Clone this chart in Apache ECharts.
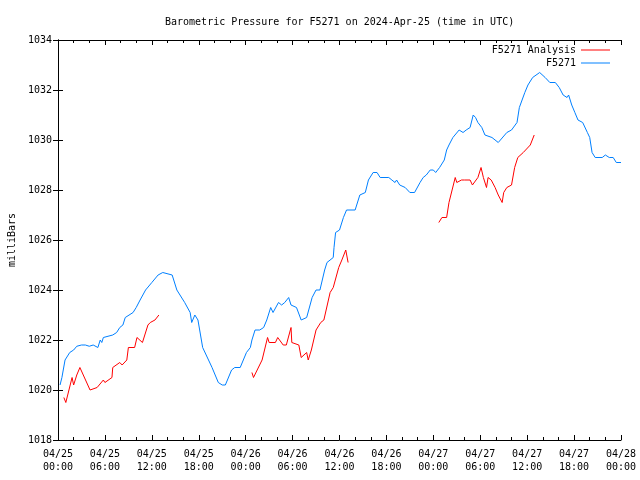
<!DOCTYPE html>
<html>
<head>
<meta charset="utf-8">
<script src="https://cdn.jsdelivr.net/npm/echarts@6/dist/echarts.min.js"></script>
<style>html,body{margin:0;padding:0;background:#fff}#c{width:640px;height:480px}</style>
</head>
<body>
<div id="c"></div>
<script>
// x tick labels (every 6 hours, from 2024-04-25 00:00 UTC)
const tickLabels = ['04/25\n00:00','04/25\n06:00','04/25\n12:00','04/25\n18:00','04/26\n00:00','04/26\n06:00','04/26\n12:00','04/26\n18:00','04/27\n00:00','04/27\n06:00','04/27\n12:00','04/27\n18:00','04/28\n00:00'];

// F5271 observed: [hours since 04/25 00:00, mbar]
const stationHours = [0.26,0.5,0.9,1.5,2.0,2.4,3.0,3.5,4.0,4.5,5.1,5.3,5.4,5.6,5.8,6.0,7.0,7.5,7.9,8.3,8.6,9.6,10.0,10.5,11.2,12.0,12.8,13.4,14.6,15.2,16.2,16.9,17.1,17.5,17.9,18.5,19.7,20.5,21.0,21.4,22.2,22.6,23.3,24.1,24.6,24.8,25.2,25.8,26.3,26.7,27.2,27.5,28.2,28.6,29.0,29.5,29.8,30.5,31.1,31.8,32.5,33.0,33.5,34.1,34.4,35.2,35.3,35.5,36.0,36.5,36.9,38.0,38.6,39.3,39.7,40.3,40.8,41.2,42.3,42.7,43.1,43.3,43.7,44.4,45.0,45.6,46.3,46.7,47.1,47.6,48.0,48.3,48.8,49.4,49.7,50.0,50.5,51.3,51.8,52.2,52.7,53.1,53.4,53.7,54.2,54.6,55.5,56.3,57.4,58.0,58.7,59.0,59.7,60.1,60.7,61.6,62.3,62.9,63.6,64.1,64.6,65.1,65.3,65.7,66.1,66.5,67.1,67.7,68.0,68.3,68.7,69.6,70.0,70.5,71.0,71.4,72.0];
const stationValues = [1020.2,1020.5,1021.2,1021.5,1021.6,1021.75,1021.8,1021.8,1021.75,1021.8,1021.7,1021.7,1022.0,1021.9,1022.1,1022.1,1022.2,1022.3,1022.5,1022.6,1022.9,1023.1,1023.3,1023.6,1024.0,1024.3,1024.6,1024.7,1024.6,1024.0,1023.5,1023.1,1022.7,1023.0,1022.8,1021.7,1020.9,1020.3,1020.2,1020.2,1020.8,1020.9,1020.9,1021.5,1021.7,1022.0,1022.4,1022.4,1022.5,1022.8,1023.3,1023.1,1023.5,1023.4,1023.5,1023.7,1023.4,1023.3,1022.8,1022.9,1023.7,1024.0,1024.0,1024.8,1025.1,1025.3,1025.7,1026.3,1026.4,1026.9,1027.2,1027.2,1027.8,1027.9,1028.4,1028.7,1028.7,1028.5,1028.5,1028.4,1028.3,1028.4,1028.2,1028.1,1027.9,1027.9,1028.3,1028.5,1028.6,1028.8,1028.8,1028.7,1028.9,1029.2,1029.6,1029.8,1030.1,1030.4,1030.3,1030.4,1030.5,1031.0,1030.9,1030.7,1030.5,1030.2,1030.1,1029.9,1030.3,1030.4,1030.7,1031.3,1031.9,1032.2,1032.5,1032.7,1032.5,1032.3,1032.3,1032.1,1031.8,1031.7,1031.8,1031.4,1031.1,1030.8,1030.7,1030.3,1030.1,1029.5,1029.3,1029.3,1029.4,1029.3,1029.3,1029.1,1029.1];

// F5271 Analysis: three separate runs
const analysis1Hours = [0.75,1.0,1.8,2.0,2.4,2.8,4.1,5.0,5.8,6.0,6.9,7.0,7.9,8.2,8.8,9.0,9.8,10.1,10.8,11.5,11.8,12.4,12.9];
const analysis1Values = [1019.7,1019.5,1020.5,1020.2,1020.6,1020.9,1020.0,1020.1,1020.4,1020.3,1020.5,1020.9,1021.1,1021.0,1021.2,1021.7,1021.7,1022.1,1021.9,1022.6,1022.7,1022.8,1023.0];
const analysis2Hours = [24.8,25.0,26.1,26.8,27.0,27.8,28.1,28.8,29.2,29.8,29.9,30.8,31.1,31.8,32.0,32.4,33.0,33.6,34.0,34.8,35.2,35.9,36.3,36.8,37.1];
const analysis2Values = [1020.7,1020.5,1021.2,1022.1,1021.9,1021.9,1022.1,1021.8,1021.8,1022.5,1021.9,1021.8,1021.3,1021.5,1021.2,1021.6,1022.4,1022.7,1022.8,1023.9,1024.1,1024.9,1025.2,1025.6,1025.1];
const analysis3Hours = [48.7,49.1,49.7,50.0,50.8,51.0,51.6,52.0,52.7,53.0,53.7,54.1,54.4,54.8,55.0,55.4,55.9,56.3,56.8,57.0,57.4,58.0,58.4,58.8,59.5,60.4,60.9];
const analysis3Values = [1026.7,1026.9,1026.9,1027.5,1028.5,1028.3,1028.4,1028.4,1028.4,1028.2,1028.5,1028.9,1028.5,1028.1,1028.5,1028.4,1028.1,1027.8,1027.5,1027.9,1028.1,1028.2,1028.9,1029.3,1029.5,1029.8,1030.2];

const zip = (xs, ys) => xs.map((x, i) => [x, ys[i]]);
const analysisData = [].concat(
  zip(analysis1Hours, analysis1Values), [[18, null]],
  zip(analysis2Hours, analysis2Values), [[43, null]],
  zip(analysis3Hours, analysis3Values)
);
const stationData = zip(stationHours, stationValues);

const FONT = 'DejaVu Sans Mono';
const axisCommon = {
  axisLine: { show: true, lineStyle: { color: '#000', width: 1 } },
  splitLine: { show: false }
};

const chart = echarts.init(document.getElementById('c'), null, { renderer: 'canvas' });
chart.setOption({
  animation: false,
  backgroundColor: '#fff',
  title: {
    text: 'Barometric Pressure for F5271 on 2024-Apr-25 (time in UTC)',
    left: 160, top: 12,
    textStyle: { fontFamily: FONT, fontSize: 10, fontWeight: 'normal', color: '#000' }
  },
  legend: {
    data: ['F5271 Analysis', 'F5271'],
    orient: 'vertical', align: 'right',
    right: 25, top: 40,
    icon: 'rect',
    itemWidth: 29, itemHeight: 1, itemGap: 3,
    textStyle: { fontFamily: FONT, fontSize: 10, color: '#000' }
  },
  grid: { left: 58, right: 19, top: 40, bottom: 40, containLabel: false, outerBoundsMode: 'none' },
  xAxis: [
    Object.assign({}, axisCommon, {
      type: 'value', min: 0, max: 72, interval: 6, position: 'bottom',
      axisTick: { show: true, inside: true, length: 5, lineStyle: { color: '#000' } },
      minorTick: { show: true, splitNumber: 3, length: 3, lineStyle: { color: '#000' } },
      axisLabel: {
        fontFamily: FONT, fontSize: 10, color: '#000', margin: 8, lineHeight: 13,
        formatter: v => tickLabels[Math.round(v / 6)]
      }
    }),
    Object.assign({}, axisCommon, {
      type: 'value', min: 0, max: 72, interval: 6, position: 'top',
      axisTick: { show: true, inside: true, length: 5, lineStyle: { color: '#000' } },
      minorTick: { show: true, splitNumber: 3, length: 3, lineStyle: { color: '#000' } },
      axisLabel: { show: false }
    })
  ],
  yAxis: [
    Object.assign({}, axisCommon, {
      type: 'value', min: 1018, max: 1034, interval: 2, position: 'left',
      name: 'milliBars', nameLocation: 'middle', nameGap: 38, nameRotate: 90,
      nameTextStyle: { fontFamily: FONT, fontSize: 10, color: '#000' },
      axisTick: { show: true, inside: true, length: 5, lineStyle: { color: '#000' } },
      axisLabel: { fontFamily: FONT, fontSize: 10, color: '#000', margin: 6, formatter: v => String(v) }
    }),
    Object.assign({}, axisCommon, {
      type: 'value', min: 1018, max: 1034, interval: 2, position: 'right',
      axisTick: { show: true, inside: true, length: 5, lineStyle: { color: '#000' } },
      axisLabel: { show: false }
    })
  ],
  series: [
    {
      name: 'F5271 Analysis', type: 'line', xAxisIndex: 0, yAxisIndex: 0,
      data: analysisData, symbol: 'none', connectNulls: false,
      lineStyle: { color: '#ff0000', width: 1 }, itemStyle: { color: '#ff0000' }
    },
    {
      name: 'F5271', type: 'line', xAxisIndex: 0, yAxisIndex: 0,
      data: stationData, symbol: 'none',
      lineStyle: { color: '#0080ff', width: 1 }, itemStyle: { color: '#0080ff' }
    }
  ]
});
</script>
</body>
</html>
